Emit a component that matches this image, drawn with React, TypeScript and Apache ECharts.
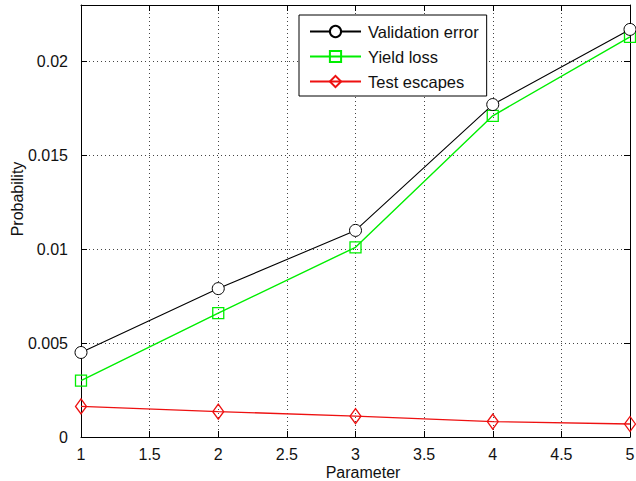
import React, { useEffect, useRef } from "react";
import * as echarts from "echarts";

const xValues = [1, 2, 3, 4, 5];
const validationError = [0.0045, 0.0079, 0.011, 0.0177, 0.0217];
const yieldLoss = [0.003, 0.0066, 0.0101, 0.0171, 0.0213];
const testEscapes = [0.00163, 0.00135, 0.00111, 0.00082, 0.00069];
const seriesNames = ["Validation error", "Yield loss", "Test escapes"];
const xAxisTitle = "Parameter";
const yAxisTitle = "Probability";

const FONT = "Liberation Sans, Arial, sans-serif";

export default function App() {
  const ref = useRef<HTMLDivElement>(null);
  useEffect(() => {
    if (!ref.current) return;
    const chart = echarts.init(ref.current, null, { renderer: "svg" });
    const pair = (ys: number[]) => xValues.map((x, i) => [x, ys[i]]);
    const gridLine = { show: true, lineStyle: { color: "#444", type: [1, 3], width: 1 } };
    const axisLine = { show: true, onZero: false, lineStyle: { color: "#000", width: 1 } };
    const label = { color: "#111", fontSize: 16, fontFamily: FONT };
    chart.setOption({
      animation: false,
      backgroundColor: "#fff",
      grid: { left: 81, right: 6, top: 5, bottom: 44, containLabel: false, outerBoundsMode: "none" },
      graphic: [
        {
          type: "text",
          x: 363,
          y: 472,
          style: {
            text: xAxisTitle,
            fontSize: 16,
            fontFamily: FONT,
            fill: "#111",
            align: "center",
            verticalAlign: "middle",
          },
        },
        {
          type: "text",
          x: 17,
          y: 199,
          rotation: Math.PI / 2,
          style: {
            text: yAxisTitle,
            fontSize: 16,
            fontFamily: FONT,
            fill: "#111",
            align: "center",
            verticalAlign: "middle",
          },
        },
      ],
      legend: {
        orient: "vertical",
        left: 299,
        top: 15,
        width: 185,
        padding: [8, 8, 6, 10],
        itemGap: 8,
        itemWidth: 51,
        itemHeight: 14,
        borderColor: "#000",
        borderWidth: 1,
        backgroundColor: "#fff",
        data: seriesNames,
        textStyle: { fontSize: 16.5, fontFamily: FONT, color: "#111", padding: [0, 0, 0, 2] },
      },
      xAxis: [
        {
          type: "value",
          min: 1,
          max: 5,
          interval: 0.5,
          axisLine,
          axisTick: { show: true, inside: true, length: 6, lineStyle: { color: "#000" } },
          axisLabel: { ...label, margin: 9 },
          splitLine: gridLine,
        },
        {
          type: "value",
          position: "top",
          min: 1,
          max: 5,
          interval: 0.5,
          axisLine,
          axisTick: { show: true, inside: true, length: 6, lineStyle: { color: "#000" } },
          axisLabel: { show: false },
          splitLine: { show: false },
        },
      ],
      yAxis: [
        {
          type: "value",
          min: 0,
          max: 0.023,
          interval: 0.005,
          axisLine,
          axisTick: { show: true, inside: true, length: 6, lineStyle: { color: "#000" } },
          axisLabel: { ...label, margin: 13, showMaxLabel: false },
          splitLine: gridLine,
        },
        {
          type: "value",
          position: "right",
          min: 0,
          max: 0.023,
          interval: 0.005,
          axisLine,
          axisTick: { show: true, inside: true, length: 6, lineStyle: { color: "#000" } },
          axisLabel: { show: false },
          splitLine: { show: false },
        },
      ],
      series: [
        {
          name: seriesNames[0],
          type: "line",
          data: pair(validationError),
          symbol: "circle",
          symbolSize: 12,
          color: "#000",
          lineStyle: { color: "#000", width: 1.1 },
          itemStyle: { color: "#fff", borderColor: "#000", borderWidth: 1 },
          z: 3,
        },
        {
          name: seriesNames[1],
          type: "line",
          data: pair(yieldLoss),
          symbol: "rect",
          symbolSize: 11,
          color: "#00ee00",
          lineStyle: { color: "#00ee00", width: 1.4 },
          itemStyle: { color: "none", borderColor: "#00ee00", borderWidth: 1.3 },
          z: 2,
        },
        {
          name: seriesNames[2],
          type: "line",
          data: pair(testEscapes),
          symbol: "diamond",
          symbolSize: [11, 15],
          color: "#ee1111",
          lineStyle: { color: "#ee1111", width: 1.4 },
          itemStyle: { color: "none", borderColor: "#ee1111", borderWidth: 1.3 },
          z: 2,
        },
      ],
    });
    return () => chart.dispose();
  }, []);
  return (
    <div
      ref={ref}
      style={{ position: "absolute", left: 0, top: 0, width: 636, height: 481, background: "#fff" }}
    />
  );
}
